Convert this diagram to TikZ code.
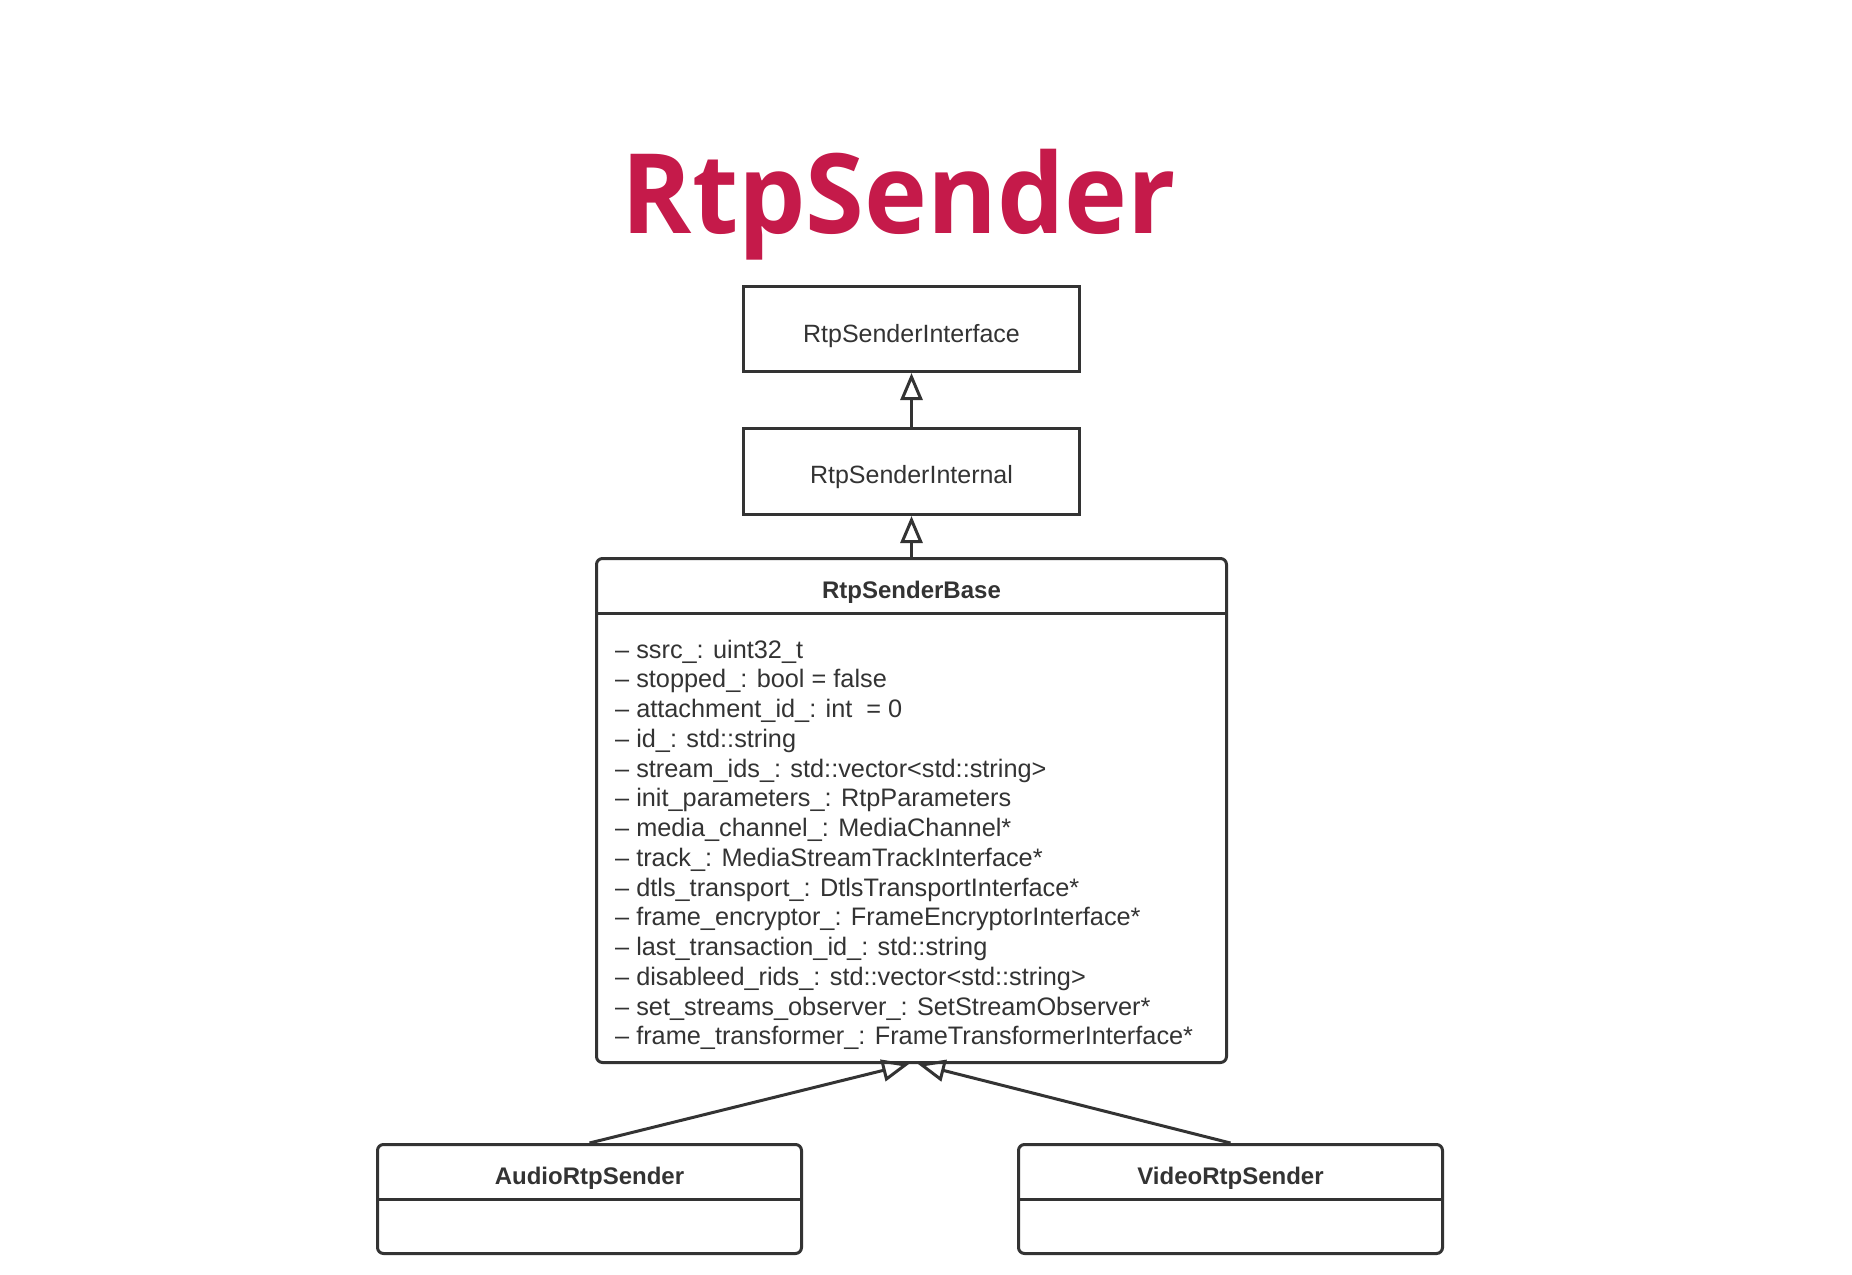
\documentclass[tikz,border=0pt]{standalone}
\usepackage{fontspec}
\setmainfont{Liberation Sans}
\newfontfamily\titlefont{Open Sans}
\usetikzlibrary{arrows.meta}
\definecolor{ink}{HTML}{333333}
\definecolor{titlered}{HTML}{C51A4A}
\begin{document}
\begin{tikzpicture}[x=1pt,y=-1pt,
  boxline/.style={draw=ink,line width=3pt},
  plainbox/.style={boxline,rectangle,inner sep=0pt},
  umlbox/.style={boxline,rectangle,rounded corners=6pt,inner sep=0pt},
  lbl/.style={text=ink,inner sep=0pt,font=\fontsize{25pt}{30pt}\selectfont},
  hdrlbl/.style={text=ink,inner sep=0pt,font=\fontsize{24pt}{30pt}\selectfont\bfseries},
  attr/.style={text=ink,inner sep=0pt,anchor=base west,font=\fontsize{25.3pt}{30pt}\selectfont},
  inh/.style={draw=ink,line width=3pt,-{Triangle[open,length=27pt,width=22pt]}}]
\useasboundingbox (0,0) rectangle (1852,1274);

% title
\node[text=titlered,inner sep=0pt,anchor=base,font=\titlefont\fontsize{111pt}{130pt}\selectfont\bfseries] (title) at (899,233) {\scalebox{0.96}[1]{RtpSender}};

% interface and internal
\node[plainbox,minimum width=336pt,minimum height=85pt] (iface) at (911.5,329) {};
\node[lbl,anchor=base] (ifacet) at (911.5,342) {RtpSenderInterface};
\node[plainbox,minimum width=336pt,minimum height=86pt] (internal) at (911.5,471.5) {};
\node[lbl,anchor=base] (internalt) at (911.5,483.5) {RtpSenderInternal};

% base
\node[umlbox,minimum width=630pt,minimum height=504pt] (base) at (911.5,810.5) {};
\coordinate (basehdr) at (0,613);
\draw[boxline] (base.west |- basehdr) -- (base.east |- basehdr);
\node[hdrlbl,anchor=base] (baset) at (911.5,598) {RtpSenderBase};
\foreach \t [count=\i] in {
  {– ssrc\_: uint32\_t},
  {– stopped\_: bool = false},
  {– attachment\_id\_: int\ \ = 0},
  {– id\_: std::string},
  {– stream\_ids\_: std::vector<std::string>},
  {– init\_parameters\_: RtpParameters},
  {– media\_channel\_: MediaChannel*},
  {– track\_: MediaStreamTrackInterface*},
  {– dtls\_transport\_: DtlsTransportInterface*},
  {– frame\_encryptor\_: FrameEncryptorInterface*},
  {– last\_transaction\_id\_: std::string},
  {– disableed\_rids\_: std::vector<std::string>},
  {– set\_streams\_observer\_: SetStreamObserver*},
  {– frame\_transformer\_: FrameTransformerInterface*}}
  \node[attr] (a\i) at (615,{658+29.75*(\i-1)}) {\t};

% children
\node[umlbox,minimum width=424pt,minimum height=109pt] (audio) at (589.5,1199) {};
\coordinate (childhdr) at (0,1199);
\draw[boxline] (audio.west |- childhdr) -- (audio.east |- childhdr);
\node[hdrlbl,anchor=base] (audiot) at (589.5,1184) {AudioRtpSender};
\node[umlbox,minimum width=424pt,minimum height=109pt] (video) at (1230.5,1199) {};
\draw[boxline] (video.west |- childhdr) -- (video.east |- childhdr);
\node[hdrlbl,anchor=base] (videot) at (1230.5,1184) {VideoRtpSender};

% inheritance
\draw[inh] (internal.north) -- (iface.south);
\draw[inh] (base.north) -- (internal.south);
\draw[inh] (audio.north) -- ([xshift=-2.5pt]base.south);
\draw[inh] (video.north) -- ([xshift=6.5pt]base.south);
\end{tikzpicture}
\end{document}
